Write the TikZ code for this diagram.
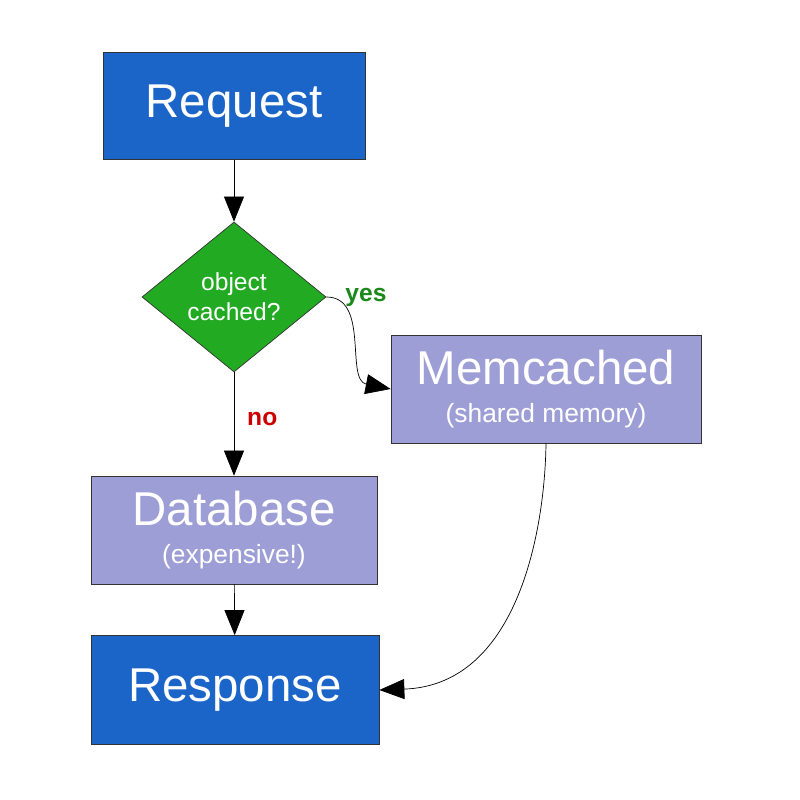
\documentclass[tikz,border=0pt]{standalone}
\usepackage{fontspec}
\setmainfont{Liberation Sans}
\usetikzlibrary{shapes.geometric,arrows.meta}
\definecolor{boxblue}{HTML}{1B64C8}
\definecolor{boxlav}{HTML}{9E9ED6}
\definecolor{decgreen}{HTML}{22AA22}
\tikzstyle{blue box}=[fill=boxblue, draw=black!80, minimum width=5.24cm, minimum height=2.14cm, text=white, font=\fontsize{27}{30}\selectfont]
\tikzstyle{lav box}=[fill=boxlav, draw=black!80, minimum height=2.16cm, text=white, align=center, font=\fontsize{27}{30}\selectfont]
\tikzstyle{decision}=[fill=decgreen, draw=black!80, shape=diamond, minimum width=3.68cm, minimum height=3cm, inner sep=0pt, text=white, align=center, font=\fontsize{14}{17}\selectfont]
\tikzstyle{flow}=[-{Triangle[length=0.5cm,width=0.4cm]}, draw=black]
\newcommand{\sub}[1]{\\[-8pt]{\fontsize{15}{18}\selectfont #1}}

\begin{document}
\begin{tikzpicture}
    \fill [white] (0,0) rectangle (16,16);
    \node [style=blue box] (request) at (4.68, 13.88) {Request};
    \node [style=decision] (cached) at (4.68, 10.06) {object\\cached?};
    \node [style=lav box, minimum width=6.2cm] (memcached) at (10.92, 8.22) {Memcached\sub{(shared memory)}};
    \node [style=lav box, minimum width=5.72cm] (database) at (4.68, 5.4) {Database\sub{(expensive!)}};
    \node [style=blue box, minimum width=5.76cm, minimum height=2.18cm] (response) at (4.7, 2.2) {Response};
    \draw [style=flow] (request) to (cached);
    \draw [style=flow] (cached) to node [pos=0.45, right=4pt, text=red!80!black, font=\bfseries\fontsize{14}{16}\selectfont] {no} (database);
    \draw [style=flow] (cached.east) .. controls (7.4, 10.06) and (6.9, 8.4) .. (memcached.west);
    \node [text=decgreen!80!black, font=\bfseries\fontsize{14}{16}\selectfont] (yes) at (7.32, 10.06) {yes};
    \draw [style=flow] (memcached.south) .. controls (10.9, 5.5) and (10.4, 2.3) .. (response.east);
    \draw [style=flow] (database) to (response);
\end{tikzpicture}
\end{document}
